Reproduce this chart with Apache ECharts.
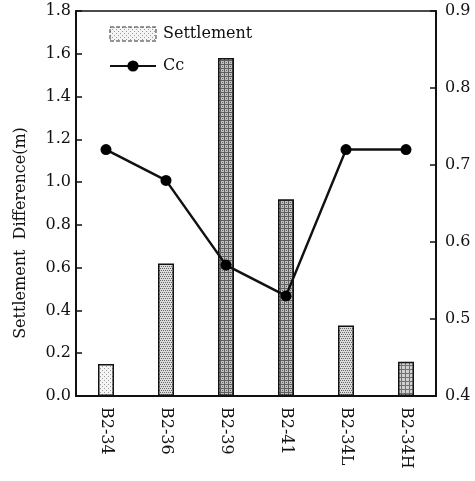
<!DOCTYPE html>
<html>
<head>
<meta charset="utf-8">
<script src="https://cdn.jsdelivr.net/npm/echarts@6/dist/echarts.min.js"></script>
<style>
  html, body { margin: 0; padding: 0; background: #fff; }
  #chart { width: 475px; height: 481px; }
</style>
</head>
<body>
<div id="chart"></div>
<script>
// Boreholes along the section
const categories = ['B2-34', 'B2-36', 'B2-39', 'B2-41', 'B2-34L', 'B2-34H'];
// Settlement difference (m), left axis
const settlement = [0.15, 0.62, 1.58, 0.92, 0.33, 0.16];
// Compression index Cc, right axis
const cc = [0.72, 0.68, 0.57, 0.53, 0.72, 0.72];
// Fill texture for each bar
const barTextures = ['light', 'medium', 'dense', 'dense', 'medium', 'grid'];

const leftTicks = { min: 0, max: 1.8, step: 0.2 };
const rightTicks = { min: 0.4, max: 0.9, step: 0.1 };

const FONT = '"DejaVu Serif", "Liberation Serif", serif';

// Small repeating stipple textures drawn on a canvas
function makeTexture(kind) {
  const c = document.createElement('canvas');
  c.width = 4; c.height = 4;
  const g = c.getContext('2d');
  if (kind === 'light') {
    g.fillStyle = '#f4f4f4'; g.fillRect(0, 0, 4, 4);
    g.fillStyle = '#9a9a9a';
    g.fillRect(0, 0, 1, 1); g.fillRect(2, 2, 1, 1);
  } else if (kind === 'medium') {
    g.fillStyle = '#dcdcdc'; g.fillRect(0, 0, 4, 4);
    g.fillStyle = '#666';
    g.fillRect(0, 0, 1, 1); g.fillRect(2, 0, 1, 1);
    g.fillRect(1, 2, 1, 1); g.fillRect(3, 2, 1, 1);
  } else if (kind === 'dense') {
    g.fillStyle = '#c0c0c0'; g.fillRect(0, 0, 4, 4);
    g.fillStyle = '#5e5e5e';
    g.fillRect(0, 0, 4, 1); g.fillRect(0, 0, 1, 4);
    g.fillRect(2, 2, 1, 1);
  } else {
    g.fillStyle = '#d0d0d0'; g.fillRect(0, 0, 4, 4);
    g.fillStyle = '#727272';
    g.fillRect(0, 1, 4, 1); g.fillRect(1, 0, 1, 4);
  }
  return { image: c, repeat: 'repeat' };
}

const barData = settlement.map((v, i) => ({
  value: v,
  itemStyle: { color: makeTexture(barTextures[i]) }
}));

const chart = echarts.init(document.getElementById('chart'), null, { renderer: 'canvas' });

chart.setOption({
  animation: false,
  backgroundColor: '#fff',
  textStyle: { fontFamily: FONT, color: '#111' },
  grid: {
    left: 76, right: 39, top: 11, bottom: 85,
    show: true, borderColor: '#111', borderWidth: 1.5, backgroundColor: 'transparent'
  },
  legend: {
    orient: 'vertical',
    left: 104, top: 21,
    itemWidth: 46, itemHeight: 14,
    itemGap: 16,
    textStyle: { fontFamily: FONT, fontSize: 16, color: '#111', padding: [0, 0, 0, 2] },
    data: [
      {
        name: 'Settlement',
        icon: 'rect',
        itemStyle: { color: makeTexture('light'), borderColor: '#333', borderWidth: 1, borderType: 'dashed' }
      },
      { name: 'Cc' }
    ]
  },
  xAxis: {
    type: 'category',
    data: categories,
    axisLine: { show: true, lineStyle: { color: '#111', width: 2 } },
    axisTick: { show: false },
    axisLabel: {
      rotate: -90, margin: 11, fontFamily: FONT, fontSize: 16, color: '#111', interval: 0
    },
    splitLine: { show: false }
  },
  yAxis: [
    {
      type: 'value',
      min: leftTicks.min, max: leftTicks.max, interval: leftTicks.step,
      axisLine: { show: true, lineStyle: { color: '#111', width: 2 } },
      axisTick: { show: true, inside: true, length: 6, lineStyle: { color: '#111', width: 1.5 } },
      axisLabel: {
        margin: 5, fontFamily: FONT, fontSize: 16, color: '#111',
        formatter: v => v.toFixed(1)
      },
      splitLine: { show: false }
    },
    {
      type: 'value',
      min: rightTicks.min, max: rightTicks.max, interval: rightTicks.step,
      position: 'right',
      axisLine: { show: true, lineStyle: { color: '#111', width: 2 } },
      axisTick: { show: true, inside: true, length: 6, lineStyle: { color: '#111', width: 1.5 } },
      axisLabel: {
        margin: 9, fontFamily: FONT, fontSize: 16, color: '#111',
        formatter: v => v.toFixed(1)
      },
      splitLine: { show: false }
    }
  ],
  graphic: [
    {
      type: 'text',
      rotation: Math.PI / 2,
      x: 21, y: 233,
      style: {
        text: 'Settlement  Difference(m)',
        font: '16px ' + FONT,
        fill: '#111',
        textAlign: 'center',
        textVerticalAlign: 'middle'
      }
    }
  ],
  series: [
    {
      name: 'Settlement',
      type: 'bar',
      yAxisIndex: 0,
      barWidth: 16,
      data: barData,
      itemStyle: { borderColor: '#111', borderWidth: 1.5 }
    },
    {
      name: 'Cc',
      type: 'line',
      yAxisIndex: 1,
      data: cc,
      symbol: 'circle',
      symbolSize: 11,
      itemStyle: { color: '#000' },
      lineStyle: { color: '#111', width: 2.5 },
      z: 5
    }
  ]
});
</script>
</body>
</html>
